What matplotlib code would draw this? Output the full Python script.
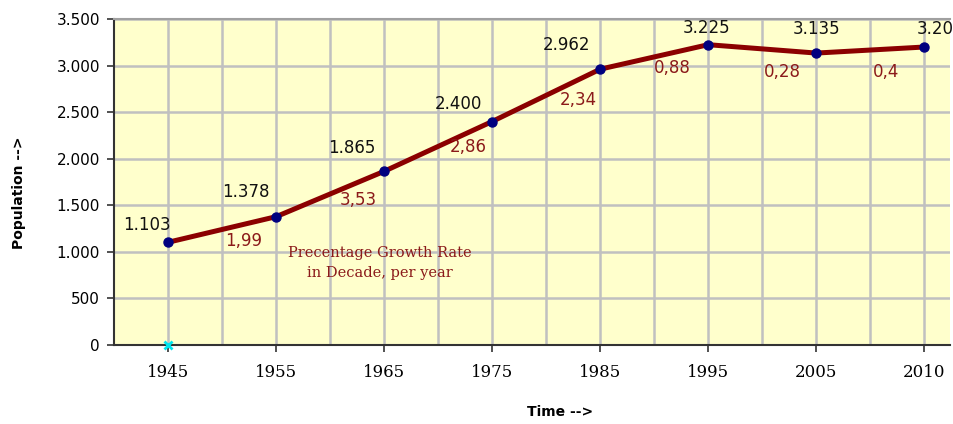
import matplotlib.pyplot as plt
from matplotlib.ticker import FuncFormatter, MultipleLocator

years = ['1945', '1955', '1965', '1975', '1985', '1995', '2005', '2010']
population = [1103, 1378, 1865, 2400, 2962, 3225, 3135, 3200]
growth_rate = ['1,99', '3,53', '2,86', '2,34', '0,88', '0,28', '0,4']


def dotted(v):
    return f'{int(v):,}'.replace(',', '.')


fig = plt.figure(figsize=(9.54, 4.24), dpi=100)
ax = fig.add_axes([0.1195, 0.1863, 0.8765, 0.7687])
ax.set_facecolor('#FFFFCC')

x = list(range(len(years)))
ax.plot(x, population, color='#8B0000', lw=3.6, zorder=3)
ax.plot(x, population, 'o', color='#00007F', ms=6.5, zorder=4)
ax.plot([0], [0], marker='x', color='#00E5EE', ms=6, mew=2, zorder=5, clip_on=False)

# value labels above the points (offsets in pixels)
val_dx = [-21, -30, -32, -34, -34, -2, 0, 16]
val_dy = [17, 25, 23, 18, 24, 17, 24, 18]
for i, v in enumerate(population):
    ax.annotate(dotted(v), (i, v), xytext=(val_dx[i], val_dy[i]), textcoords='offset pixels',
                ha='center', va='center', fontsize=12, family='DejaVu Sans',
                color='#111111')

# growth rate labels below the segments
rate_dx = [22, 28, 30, 32, 18, 20, 16]
rate_dy = [-12, -6, -1, -5, -11, -23, -22]
for i, r in enumerate(growth_rate):
    mid = (population[i] + population[i + 1]) / 2
    ax.annotate(r, (i + 0.5, mid), xytext=(rate_dx[i], rate_dy[i]), textcoords='offset pixels',
                ha='center', va='center', fontsize=12, family='DejaVu Sans',
                color='#8B1A1A')

ax.text(1.96, 880, 'Precentage Growth Rate\nin Decade, per year', ha='center', va='center',
        fontsize=10.5, family='DejaVu Serif', color='#8B1A1A', linespacing=1.6)

ax.set_xticks(x)
ax.set_xticklabels(years, family='DejaVu Serif', fontsize=12)
ax.set_xticks([i + 0.5 for i in x[:-1]], minor=True)
ax.yaxis.set_major_locator(MultipleLocator(500))
ax.yaxis.set_major_formatter(FuncFormatter(lambda v, p: dotted(v)))
ax.tick_params(axis='y', labelsize=11, labelfontfamily='DejaVu Sans')
ax.set_xlim(-0.5, 7.24)
ax.set_ylim(0, 3500)

ax.grid(True, which='both', axis='x', color='#C0C0C0', lw=1.8)
ax.grid(True, which='major', axis='y', color='#C0C0C0', lw=1.8)
ax.set_axisbelow(True)
ax.tick_params(axis='x', which='minor', length=0)
ax.tick_params(axis='x', which='major', length=5, width=1.2, pad=9, color='#333333')
ax.tick_params(axis='y', length=5, width=1.2, pad=5, color='#333333')

ax.spines['left'].set_color('#333333')
ax.spines['bottom'].set_color('#333333')
ax.spines['left'].set_linewidth(1.5)
ax.spines['bottom'].set_linewidth(1.5)
ax.spines['top'].set_color('#A0A0A0')
ax.spines['top'].set_linewidth(1.5)
ax.spines['right'].set_visible(False)

ax.set_ylabel('Population -->', fontsize=10, fontweight='bold')
ax.yaxis.set_label_coords(-0.105, 0.466)
ax.set_xlabel('Time -->', fontsize=10, fontweight='bold')
ax.xaxis.set_label_coords(0.533, -0.185)

fig.savefig('out.png', dpi=100)
